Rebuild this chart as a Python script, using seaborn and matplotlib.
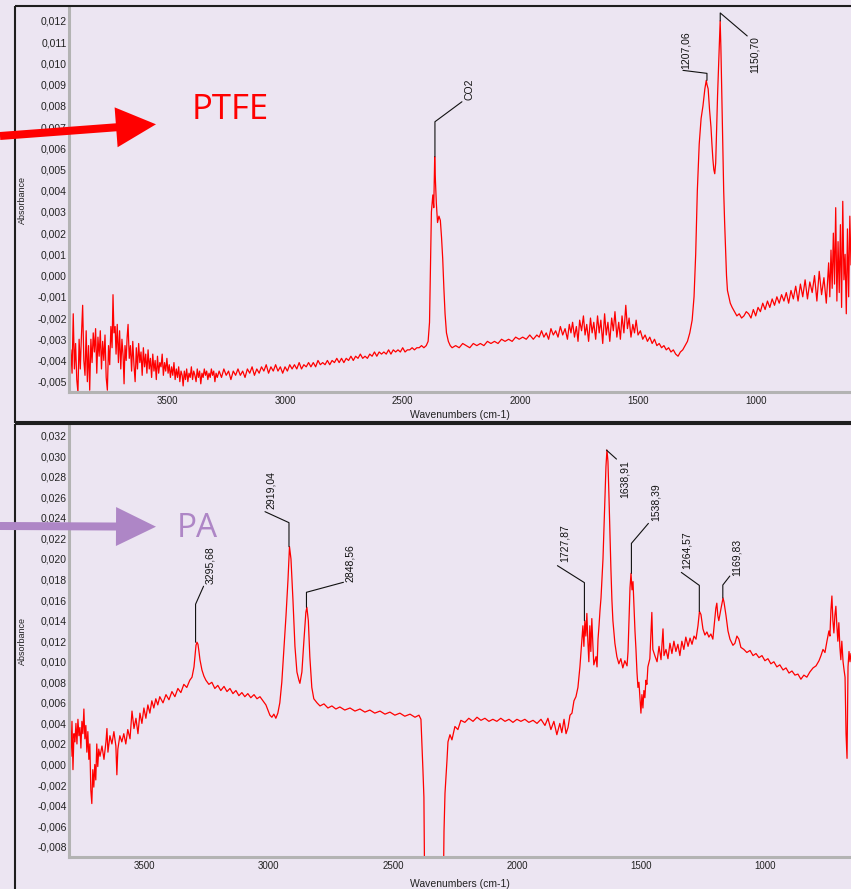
import numpy as np
import pandas as pd
import matplotlib
matplotlib.use("Agg")
import matplotlib.pyplot as plt
import seaborn as sns
from matplotlib.patches import FancyArrow, Rectangle
from matplotlib.ticker import MultipleLocator, AutoMinorLocator, FuncFormatter

# ---- data (wavenumber cm-1, absorbance) ----
ptfe_points = [
    (3915, -0.0042), (3910, -0.0035), (3905, -0.0046), (3900, -0.0018), (3895, -0.0044),
    (3890, -0.0032), (3885, -0.0049), (3880, -0.0055), (3875, -0.0030), (3870, -0.0044),
    (3865, -0.0028), (3860, -0.0014), (3855, -0.0040), (3850, -0.0047), (3845, -0.0026),
    (3840, -0.0050), (3835, -0.0033), (3830, -0.0054), (3825, -0.0030), (3820, -0.0041),
    (3815, -0.0027), (3810, -0.0036), (3805, -0.0025), (3800, -0.0046), (3795, -0.0029),
    (3790, -0.0038), (3785, -0.0026), (3780, -0.0044), (3775, -0.0031), (3770, -0.0040),
    (3765, -0.0028), (3760, -0.0048), (3755, -0.0054), (3750, -0.0033), (3745, -0.0042),
    (3740, -0.0024), (3735, -0.0034), (3731, -0.0009), (3727, -0.0027), (3722, -0.0024),
    (3718, -0.0037), (3713, -0.0023), (3708, -0.0041), (3703, -0.0026), (3698, -0.0044),
    (3693, -0.0030), (3688, -0.0038), (3684, -0.0051), (3680, -0.0033), (3675, -0.0040),
    (3671, -0.0029), (3667, -0.0023), (3662, -0.0039), (3657, -0.0033), (3652, -0.0045),
    (3647, -0.0031), (3642, -0.0042), (3637, -0.0050), (3632, -0.0034), (3627, -0.0044),
    (3622, -0.0032), (3617, -0.0041), (3612, -0.0036), (3607, -0.0047), (3602, -0.0034),
    (3597, -0.0043), (3592, -0.0037), (3587, -0.0046), (3582, -0.0035), (3577, -0.0044),
    (3572, -0.0039), (3567, -0.0048), (3562, -0.0037), (3557, -0.0045), (3552, -0.0040),
    (3547, -0.0049), (3542, -0.0038), (3537, -0.0046), (3532, -0.0041), (3527, -0.0043),
    (3522, -0.0037), (3517, -0.0047), (3512, -0.0041), (3507, -0.0045), (3502, -0.0039),
    (3497, -0.0046), (3492, -0.0042), (3487, -0.0048), (3482, -0.0043), (3477, -0.0047),
    (3472, -0.0041), (3467, -0.0049), (3462, -0.0044), (3457, -0.0048), (3452, -0.0043),
    (3447, -0.0050), (3442, -0.0045), (3437, -0.0047), (3433, -0.0052), (3428, -0.0045),
    (3423, -0.0049), (3418, -0.0044), (3413, -0.0050), (3408, -0.0046), (3403, -0.0048),
    (3398, -0.0043), (3393, -0.0049), (3388, -0.0045), (3383, -0.0047), (3378, -0.0050),
    (3373, -0.0044), (3368, -0.0048), (3363, -0.0045), (3358, -0.0051), (3353, -0.0046),
    (3348, -0.0048), (3343, -0.0044), (3338, -0.0047), (3333, -0.0045), (3328, -0.0049),
    (3323, -0.0046), (3318, -0.0048), (3313, -0.0044), (3308, -0.0047), (3303, -0.0045),
    (3298, -0.0050), (3293, -0.0046), (3288, -0.0048), (3280, -0.0045), (3270, -0.0048),
    (3260, -0.0044), (3250, -0.0047), (3240, -0.0045), (3230, -0.0049), (3220, -0.0045),
    (3210, -0.0047), (3200, -0.0044), (3190, -0.0047), (3180, -0.0045), (3170, -0.0048),
    (3160, -0.0044), (3150, -0.0046), (3140, -0.0043), (3130, -0.0047), (3120, -0.0044),
    (3110, -0.0046), (3100, -0.0043), (3090, -0.0045), (3080, -0.0042), (3070, -0.0046),
    (3060, -0.0043), (3050, -0.0045), (3040, -0.0042), (3030, -0.0045), (3020, -0.0043),
    (3010, -0.0046), (3000, -0.0043), (2990, -0.0045), (2980, -0.0042), (2970, -0.0044),
    (2960, -0.0042), (2950, -0.0044), (2940, -0.0041), (2930, -0.0044), (2920, -0.0042),
    (2910, -0.0043), (2900, -0.0041), (2890, -0.0043), (2880, -0.0041), (2870, -0.0043),
    (2860, -0.0040), (2850, -0.0042), (2840, -0.0041), (2830, -0.0042), (2820, -0.0040),
    (2810, -0.0042), (2800, -0.0040), (2790, -0.0041), (2780, -0.0039), (2770, -0.0041),
    (2760, -0.0039), (2750, -0.0041), (2740, -0.0039), (2730, -0.0040), (2720, -0.0038),
    (2710, -0.0040), (2700, -0.0038), (2690, -0.0039), (2680, -0.0037), (2670, -0.0039),
    (2660, -0.0038), (2650, -0.0039), (2640, -0.0037), (2630, -0.0038), (2620, -0.0036),
    (2610, -0.0038), (2600, -0.0036), (2590, -0.0037), (2580, -0.0036), (2570, -0.0037),
    (2560, -0.0035), (2550, -0.0037), (2540, -0.0035), (2530, -0.0036), (2520, -0.0035),
    (2510, -0.0036), (2500, -0.0034), (2490, -0.0036), (2480, -0.0035), (2470, -0.0035),
    (2460, -0.0034), (2450, -0.0035), (2440, -0.0034), (2430, -0.0034), (2420, -0.0033),
    (2410, -0.0034), (2400, -0.0033), (2392, -0.0031), (2386, -0.0022), (2382, 0.0005),
    (2378, 0.0030), (2372, 0.0038), (2368, 0.0032), (2364, 0.0056), (2361, 0.0045),
    (2357, 0.0034), (2352, 0.0025), (2346, 0.0028), (2340, 0.0026), (2335, 0.0018),
    (2330, 0.0008), (2325, -0.0006), (2320, -0.0018), (2314, -0.0027), (2306, -0.0031),
    (2298, -0.0033), (2290, -0.0034), (2275, -0.0033), (2260, -0.0034), (2245, -0.0032),
    (2230, -0.0033), (2215, -0.0034), (2200, -0.0032), (2185, -0.0033), (2170, -0.0032),
    (2155, -0.0033), (2140, -0.0031), (2125, -0.0032), (2110, -0.0031), (2095, -0.0032),
    (2080, -0.0030), (2065, -0.0031), (2050, -0.0030), (2035, -0.0031), (2020, -0.0029),
    (2005, -0.0030), (1990, -0.0029), (1975, -0.0030), (1960, -0.0028), (1945, -0.0030),
    (1930, -0.0028), (1920, -0.0029), (1910, -0.0026), (1900, -0.0029), (1890, -0.0027),
    (1880, -0.0030), (1870, -0.0025), (1860, -0.0028), (1850, -0.0026), (1840, -0.0029),
    (1830, -0.0024), (1820, -0.0028), (1810, -0.0025), (1800, -0.0030), (1792, -0.0023),
    (1785, -0.0027), (1778, -0.0022), (1770, -0.0029), (1762, -0.0024), (1755, -0.0031),
    (1748, -0.0021), (1740, -0.0026), (1732, -0.0019), (1725, -0.0028), (1718, -0.0023),
    (1710, -0.0031), (1702, -0.0020), (1695, -0.0027), (1688, -0.0022), (1680, -0.0030),
    (1672, -0.0019), (1665, -0.0027), (1658, -0.0021), (1650, -0.0032), (1642, -0.0018),
    (1635, -0.0028), (1628, -0.0022), (1620, -0.0031), (1612, -0.0020), (1605, -0.0026),
    (1598, -0.0017), (1590, -0.0029), (1582, -0.0022), (1575, -0.0030), (1568, -0.0019),
    (1560, -0.0027), (1552, -0.0014), (1545, -0.0025), (1538, -0.0020), (1530, -0.0029),
    (1522, -0.0023), (1515, -0.0027), (1508, -0.0021), (1500, -0.0028), (1490, -0.0026),
    (1480, -0.0030), (1470, -0.0028), (1460, -0.0031), (1450, -0.0029), (1440, -0.0032),
    (1430, -0.0030), (1420, -0.0033), (1410, -0.0032), (1400, -0.0034), (1390, -0.0033),
    (1380, -0.0035), (1370, -0.0034), (1360, -0.0036), (1350, -0.0035), (1340, -0.0037),
    (1330, -0.0038), (1320, -0.0036), (1310, -0.0035), (1300, -0.0033), (1290, -0.0031),
    (1280, -0.0027), (1270, -0.0021), (1262, -0.0010), (1255, 0.0010), (1248, 0.0040),
    (1240, 0.0062), (1232, 0.0074), (1224, 0.0080), (1216, 0.0088), (1210, 0.0092),
    (1207, 0.0090), (1202, 0.0088), (1196, 0.0078), (1190, 0.0070), (1186, 0.0062),
    (1182, 0.0055), (1178, 0.0050), (1174, 0.0048), (1170, 0.0053), (1166, 0.0070),
    (1162, 0.0085), (1158, 0.0098), (1154, 0.0110), (1151, 0.0120), (1148, 0.0108),
    (1144, 0.0085), (1140, 0.0060), (1136, 0.0040), (1132, 0.0025), (1128, 0.0012),
    (1124, 0.0000), (1120, -0.0007), (1114, -0.0010), (1108, -0.0013), (1100, -0.0015),
    (1090, -0.0017), (1080, -0.0019), (1070, -0.0018), (1060, -0.0020), (1050, -0.0019),
    (1040, -0.0017), (1030, -0.0018), (1020, -0.0020), (1010, -0.0016), (1000, -0.0019),
    (990, -0.0015), (980, -0.0017), (970, -0.0013), (960, -0.0016), (950, -0.0012),
    (940, -0.0015), (930, -0.0011), (920, -0.0014), (910, -0.0010), (900, -0.0013),
    (890, -0.0009), (880, -0.0012), (870, -0.0008), (860, -0.0013), (850, -0.0007),
    (840, -0.0011), (830, -0.0005), (820, -0.0012), (810, -0.0004), (800, -0.0010),
    (790, -0.0002), (780, -0.0011), (770, -0.0003), (760, -0.0008), (750, 0.0000),
    (740, -0.0012), (730, 0.0002), (720, -0.0009), (710, -0.0001), (700, -0.0013),
    (690, 0.0006), (685, -0.0010), (680, 0.0012), (675, -0.0006), (670, 0.0020),
    (665, -0.0004), (660, 0.0032), (655, -0.0012), (650, 0.0016), (645, -0.0008),
    (640, 0.0024), (635, -0.0015), (630, 0.0035), (625, -0.0002), (620, 0.0010),
    (615, -0.0018), (610, 0.0022), (605, -0.0010), (600, 0.0028), (595, 0.0005),
]

pa_points = [
    (3806, 0.0030), (3802, 0.0050), (3798, 0.0008), (3794, 0.0042), (3790, -0.0005),
    (3786, 0.0030), (3782, 0.0022), (3778, 0.0040), (3774, 0.0020), (3770, 0.0044),
    (3766, 0.0028), (3762, 0.0036), (3758, 0.0016), (3754, 0.0042), (3750, 0.0030),
    (3746, 0.0054), (3742, 0.0025), (3738, 0.0038), (3734, 0.0012), (3730, 0.0032),
    (3726, 0.0005), (3722, 0.0020), (3718, -0.0025), (3714, -0.0038), (3710, -0.0005),
    (3706, -0.0022), (3702, 0.0000), (3698, -0.0015), (3694, 0.0020), (3690, -0.0002),
    (3686, 0.0015), (3681, 0.0008), (3673, 0.0018), (3665, 0.0005), (3657, 0.0022),
    (3653, 0.0035), (3649, 0.0012), (3641, 0.0028), (3633, 0.0020), (3625, 0.0032),
    (3617, 0.0018), (3613, -0.0010), (3609, 0.0015), (3601, 0.0028), (3593, 0.0022),
    (3585, 0.0030), (3577, 0.0020), (3569, 0.0034), (3560, 0.0025), (3552, 0.0052),
    (3544, 0.0035), (3536, 0.0045), (3528, 0.0030), (3520, 0.0050), (3512, 0.0040),
    (3504, 0.0055), (3496, 0.0045), (3488, 0.0058), (3480, 0.0050), (3472, 0.0062),
    (3464, 0.0055), (3456, 0.0064), (3448, 0.0058), (3440, 0.0066), (3427, 0.0060),
    (3415, 0.0068), (3403, 0.0063), (3391, 0.0071), (3379, 0.0066), (3367, 0.0074),
    (3355, 0.0070), (3343, 0.0078), (3331, 0.0075), (3319, 0.0082), (3310, 0.0085),
    (3302, 0.0095), (3294, 0.0116), (3290, 0.0119), (3286, 0.0117), (3282, 0.0110),
    (3278, 0.0102), (3270, 0.0092), (3262, 0.0086), (3254, 0.0082), (3242, 0.0078),
    (3230, 0.0080), (3218, 0.0074), (3206, 0.0077), (3194, 0.0072), (3181, 0.0076),
    (3169, 0.0071), (3157, 0.0074), (3145, 0.0069), (3133, 0.0072), (3121, 0.0067),
    (3109, 0.0070), (3097, 0.0066), (3085, 0.0069), (3073, 0.0065), (3060, 0.0068),
    (3048, 0.0064), (3036, 0.0066), (3024, 0.0062), (3012, 0.0058), (3004, 0.0053),
    (2996, 0.0048), (2988, 0.0046), (2980, 0.0049), (2972, 0.0045), (2964, 0.0050),
    (2956, 0.0060), (2948, 0.0080), (2940, 0.0110), (2931, 0.0145), (2923, 0.0180),
    (2917, 0.0212), (2911, 0.0200), (2903, 0.0160), (2895, 0.0115), (2887, 0.0090),
    (2879, 0.0082), (2875, 0.0079), (2867, 0.0090), (2859, 0.0120), (2851, 0.0148),
    (2847, 0.0153), (2841, 0.0140), (2835, 0.0105), (2827, 0.0075), (2819, 0.0064),
    (2806, 0.0060), (2794, 0.0057), (2778, 0.0059), (2762, 0.0055), (2746, 0.0057),
    (2730, 0.0054), (2714, 0.0056), (2694, 0.0053), (2673, 0.0055), (2653, 0.0052),
    (2633, 0.0054), (2613, 0.0051), (2593, 0.0053), (2573, 0.0050), (2552, 0.0052),
    (2532, 0.0049), (2512, 0.0051), (2492, 0.0048), (2472, 0.0050), (2452, 0.0047),
    (2431, 0.0049), (2411, 0.0046), (2395, 0.0048), (2387, 0.0044), (2383, 0.0020),
    (2379, -0.0005), (2375, -0.0032), (2371, -0.0150), (2340, -0.0200), (2320, -0.0200),
    (2298, -0.0150), (2294, -0.0065), (2290, -0.0028), (2282, 0.0004), (2278, 0.0022),
    (2270, 0.0029), (2262, 0.0024), (2250, 0.0037), (2238, 0.0034), (2226, 0.0043),
    (2210, 0.0041), (2194, 0.0045), (2177, 0.0042), (2161, 0.0046), (2145, 0.0043),
    (2129, 0.0045), (2113, 0.0042), (2097, 0.0044), (2081, 0.0042), (2065, 0.0045),
    (2048, 0.0042), (2032, 0.0044), (2016, 0.0041), (2000, 0.0044), (1984, 0.0042),
    (1968, 0.0044), (1952, 0.0041), (1935, 0.0043), (1919, 0.0040), (1903, 0.0044),
    (1887, 0.0038), (1875, 0.0045), (1863, 0.0034), (1851, 0.0042), (1839, 0.0029),
    (1827, 0.0040), (1819, 0.0031), (1810, 0.0044), (1802, 0.0030), (1794, 0.0036),
    (1786, 0.0048), (1778, 0.0050), (1770, 0.0062), (1762, 0.0066), (1754, 0.0075),
    (1746, 0.0095), (1738, 0.0122), (1734, 0.0135), (1730, 0.0115), (1726, 0.0140),
    (1722, 0.0125), (1718, 0.0147), (1714, 0.0120), (1710, 0.0100), (1706, 0.0135),
    (1702, 0.0110), (1698, 0.0142), (1694, 0.0118), (1690, 0.0097), (1681, 0.0105),
    (1677, 0.0095), (1673, 0.0122), (1669, 0.0135), (1665, 0.0150), (1661, 0.0162),
    (1657, 0.0180), (1653, 0.0200), (1649, 0.0230), (1645, 0.0262), (1641, 0.0290),
    (1637, 0.0306), (1633, 0.0295), (1629, 0.0262), (1625, 0.0225), (1621, 0.0190),
    (1617, 0.0160), (1613, 0.0140), (1605, 0.0118), (1597, 0.0105), (1589, 0.0098),
    (1581, 0.0103), (1573, 0.0094), (1565, 0.0101), (1556, 0.0096), (1552, 0.0110),
    (1548, 0.0140), (1544, 0.0172), (1540, 0.0186), (1536, 0.0170), (1532, 0.0178),
    (1528, 0.0155), (1524, 0.0130), (1520, 0.0112), (1516, 0.0090), (1512, 0.0075),
    (1508, 0.0080), (1504, 0.0065), (1500, 0.0050), (1496, 0.0068), (1492, 0.0055),
    (1488, 0.0072), (1484, 0.0065), (1480, 0.0082), (1476, 0.0078), (1472, 0.0095),
    (1464, 0.0103), (1456, 0.0148), (1452, 0.0112), (1444, 0.0106), (1435, 0.0100),
    (1427, 0.0115), (1419, 0.0102), (1411, 0.0132), (1407, 0.0106), (1399, 0.0112),
    (1391, 0.0103), (1383, 0.0118), (1375, 0.0108), (1367, 0.0120), (1359, 0.0110),
    (1351, 0.0117), (1343, 0.0106), (1335, 0.0120), (1327, 0.0112), (1319, 0.0124),
    (1310, 0.0115), (1302, 0.0123), (1294, 0.0117), (1286, 0.0125), (1278, 0.0122),
    (1270, 0.0135), (1264, 0.0149), (1258, 0.0146), (1250, 0.0132), (1242, 0.0126),
    (1234, 0.0129), (1226, 0.0124), (1218, 0.0127), (1210, 0.0122), (1206, 0.0132),
    (1198, 0.0152), (1194, 0.0157), (1190, 0.0145), (1186, 0.0140), (1177, 0.0152),
    (1169, 0.0162), (1165, 0.0158), (1157, 0.0145), (1149, 0.0130), (1141, 0.0122),
    (1129, 0.0116), (1121, 0.0118), (1113, 0.0125), (1105, 0.0122), (1097, 0.0114),
    (1085, 0.0112), (1073, 0.0109), (1060, 0.0111), (1048, 0.0106), (1036, 0.0108),
    (1024, 0.0104), (1012, 0.0106), (1000, 0.0101), (988, 0.0103), (976, 0.0098),
    (964, 0.0100), (952, 0.0095), (940, 0.0097), (927, 0.0092), (915, 0.0094),
    (903, 0.0089), (891, 0.0091), (879, 0.0087), (867, 0.0088), (855, 0.0083),
    (843, 0.0087), (831, 0.0085), (819, 0.0090), (806, 0.0094), (794, 0.0096),
    (782, 0.0101), (774, 0.0106), (766, 0.0112), (758, 0.0109), (750, 0.0120),
    (742, 0.0130), (738, 0.0125), (734, 0.0150), (730, 0.0164), (726, 0.0140),
    (722, 0.0128), (718, 0.0145), (714, 0.0154), (710, 0.0135), (706, 0.0120),
    (702, 0.0138), (698, 0.0115), (694, 0.0102), (690, 0.0120), (685, 0.0100),
    (681, 0.0092), (677, 0.0085), (673, 0.0030), (669, 0.0006), (665, 0.0095),
    (661, 0.0110), (657, 0.0100), (653, 0.0108),
]

ptfe_peak_labels = ["CO2", "1207,06", "1150,70"]
ptfe_peak_wn = [2363.0, 1207.06, 1150.70]
pa_peak_labels = ["3295,68", "2919,04", "2848,56", "1727,87",
                  "1638,91", "1538,39", "1264,57", "1169,83"]
pa_peak_wn = [3295.68, 2919.04, 2848.56, 1727.87, 1638.91, 1538.39, 1264.57, 1169.83]

x_ticks = [3500, 3000, 2500, 2000, 1500, 1000]
x_label = "Wavenumbers (cm-1)"
y_label = "Absorbance"

# leader geometry in pixels (y down): stub up, diagonal dx, dy, text dx, dy, text anchor
ptfe_leaders = [(35, 27, -20, 8, -2, "bottom"), (7, -24, -3, 3, -1, "bottom"),
                (8, 27, 23, 7, 0, "top")]
pa_leaders = [(38, 8, -18, 7, -2, "bottom"), (24, -24, -11, 6, -3, "bottom"),
              (15, 37, -10, 6, 0, "bottom"), (38, -27, -17, 7, -4, "bottom"),
              (0, 10, 9, 8, 1, "top"), (30, 17, -20, 7, -2, "bottom"),
              (26, -18, -13, 5, -3, "bottom"), (13, 7, -9, 7, 0, "bottom")]

BG = "#ece5f2"
W, H = 851, 889

sns.set_style("white")
plt.rcParams["font.family"] = ["Liberation Sans", "DejaVu Sans"]
plt.rcParams["axes.unicode_minus"] = False

fig = plt.figure(figsize=(W / 100, H / 100), dpi=100, facecolor=BG)


def comma_fmt(v, pos):
    v = round(v, 4)
    if abs(v) < 1e-9:
        v = 0.0
    return f"{v:.3f}".replace(".", ",")


def draw_panel(rect, points, xlim, ylim, ystep, labels, peak_wn, leaders, xlab_y):
    ax = fig.add_axes(rect)
    ax.set_facecolor(BG)
    df = pd.DataFrame(points, columns=["wn", "absorbance"])
    sns.lineplot(data=df, x="wn", y="absorbance", ax=ax, color="#ff0000",
                 linewidth=0.9, estimator=None, sort=False)
    ax.set_xlim(*xlim)
    ax.set_ylim(*ylim)
    ax.set_xticks(x_ticks)
    ax.xaxis.set_minor_locator(MultipleLocator(100))
    ax.yaxis.set_major_locator(MultipleLocator(ystep))
    ax.yaxis.set_minor_locator(AutoMinorLocator(6))
    ax.yaxis.set_major_formatter(FuncFormatter(comma_fmt))
    for side in ["top", "right"]:
        ax.spines[side].set_visible(False)
    for side in ["left", "bottom"]:
        ax.spines[side].set_color("#b3b3b3")
        ax.spines[side].set_linewidth(2.2)
    ax.tick_params(which="major", direction="in", length=3, width=1.2,
                   color="#333333", labelsize=7, labelcolor="#222222")
    ax.tick_params(which="minor", direction="in", length=1.6, width=1.1, color="#333333")
    ax.tick_params(axis="y", pad=1.5, labelsize=7.5)
    ax.tick_params(axis="x", pad=3)
    ax.set_xlabel(x_label, fontsize=7.5, color="#222222")
    ax.set_ylabel(y_label, fontsize=6.5, color="#222222")
    ax.xaxis.set_label_coords(0.5, xlab_y)
    ax.yaxis.set_label_coords(-0.054, 0.5)

    # peak labels with leader lines
    wn = df["wn"].to_numpy()
    ab = df["absorbance"].to_numpy()
    inv = ax.transData.inverted()
    for lab, pw, (stub, dx, dy, tdx, tdy, va) in zip(labels, peak_wn, leaders):
        near = np.abs(wn - pw) <= 6
        py = ab[near].max()
        x0, y0 = ax.transData.transform((pw, py))
        pts = [(x0, y0), (x0, y0 + stub), (x0 + dx, y0 + stub - dy)]
        tx, ty = pts[-1][0] + tdx, pts[-1][1] - tdy
        dpts = inv.transform(pts)
        ax.plot(dpts[:, 0], dpts[:, 1], color="#111111", lw=0.8, clip_on=False)
        tdat = inv.transform((tx, ty))
        ax.text(tdat[0], tdat[1], lab, rotation=90, ha="center", va=va, fontsize=7.5,
                family=["Liberation Sans Narrow", "Liberation Sans", "DejaVu Sans"],
                color="#111111", clip_on=False)
    return ax


top_rect = [69 / W, 1 - 392 / H, 1 - 69 / W, (392 - 8) / H]
bot_rect = [69 / W, 1 - 857.3 / H, 1 - 69 / W, (857.3 - 425) / H]

draw_panel(top_rect, ptfe_points, (3918, 595), (-0.005486, 0.01261), 0.001,
           ptfe_peak_labels, ptfe_peak_wn, ptfe_leaders, -0.047)
draw_panel(bot_rect, pa_points, (3806, 653), (-0.00903, 0.03304), 0.002,
           pa_peak_labels, pa_peak_wn, pa_leaders, -0.050)

# overlay in pixel units for frames, arrows and sample names
ov = fig.add_axes([0, 0, 1, 1], zorder=10)
ov.set_xlim(0, W)
ov.set_ylim(H, 0)
ov.axis("off")
ov.patch.set_alpha(0)
ov.add_patch(Rectangle((14.7, 6), 900, 416, fill=False, lw=1.5, ec="#1e1e1e"))
ov.add_patch(Rectangle((14.7, 423.5), 900, 500, fill=False, lw=1.5, ec="#1e1e1e"))
ov.add_patch(FancyArrow(0, 136, 156, -11.7, width=8, head_width=40, head_length=40,
                        length_includes_head=True, color="#ff0000", lw=0))
ov.add_patch(FancyArrow(0, 526, 156, 0.7, width=8, head_width=39, head_length=40,
                        length_includes_head=True, color="#ae86c6", lw=0))
ov.text(192, 119, "PTFE", ha="left", va="baseline", fontsize=25, color="#ff0000",
        family=["Open Sans", "DejaVu Sans"])
ov.text(177, 536.7, "PA", ha="left", va="baseline", fontsize=24, color="#ae86c6",
        family=["Open Sans", "DejaVu Sans"])

fig.savefig("out.png", dpi=100, facecolor=BG)
